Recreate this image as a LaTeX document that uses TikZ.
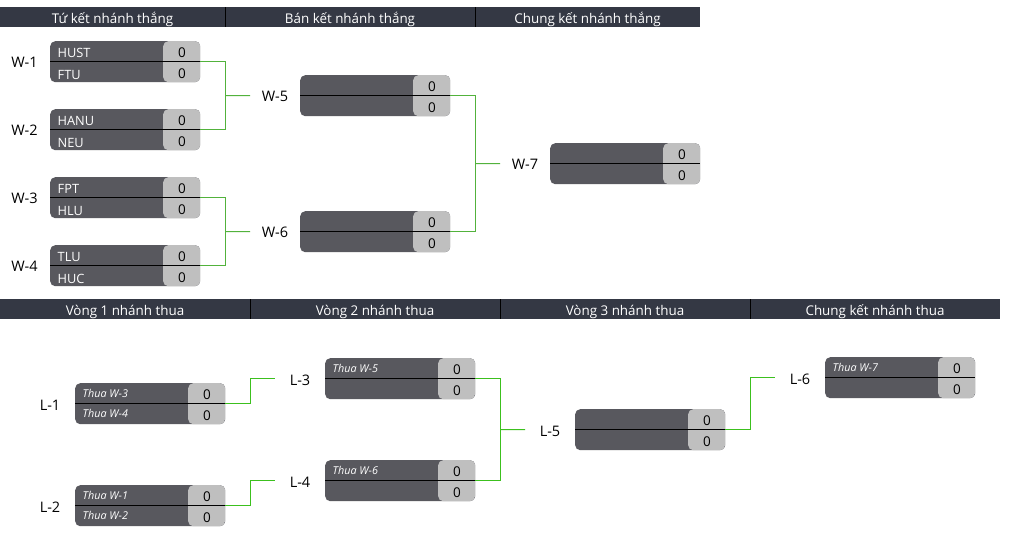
\documentclass[tikz,border=0pt]{standalone}
\usepackage{fontspec}
\setmainfont{Open Sans}
\usetikzlibrary{calc}
\definecolor{hdrcol}{HTML}{343844}
\definecolor{boxcol}{HTML}{58585E}
\definecolor{scorecol}{HTML}{BFBFBF}
\definecolor{wline}{HTML}{52B23C}
\definecolor{lline}{HTML}{3CC01E}
\tikzset{
  mbox/.style={anchor=north west, minimum width=150pt, minimum height=41pt, inner sep=0pt,
    rounded corners=5pt, fill=boxcol,
    path picture={
      \fill[scorecol] ([xshift=-37pt]path picture bounding box.north east) rectangle (path picture bounding box.south east);
      \draw[black, line width=1pt] (path picture bounding box.west) -- (path picture bounding box.east);
    }},
  team/.style={anchor=base west, text=white, inner sep=0pt, font=\fontsize{12.8}{14}\selectfont},
  lteam/.style={anchor=base west, text=white, inner sep=0pt, font=\fontsize{10.8}{12}\selectfont\itshape},
  score/.style={anchor=base, text=black, inner sep=0pt, font=\fontsize{13.5}{15}\selectfont},
  mlabel/.style={anchor=base, text=black, inner sep=0pt, font=\fontsize{14.5}{16}\selectfont},
  hdr/.style={anchor=base, text=white, inner sep=0pt, font=\fontsize{13.4}{15}\selectfont},
  wconn/.style={draw=wline, line width=1pt},
  lconn/.style={draw=lline, line width=1pt},
}
% #1 name, #2 x, #3 y, #4 team1, #5 team2, #6 team style, #7 baseline offset top, #8 baseline offset bottom
\newcommand\mymatch[8]{%
  \node[mbox] (#1) at (#2,#3) {};
  \node[#6] (#1a) at ([xshift=7.5pt,yshift=-#7pt]#1.north west) {#4};
  \node[#6] (#1b) at ([xshift=7.5pt,yshift=-#8pt]#1.west) {#5};
  \node[score] (#1sa) at ([xshift=-18.5pt,yshift=-16.3pt]#1.north east) {0};
  \node[score] (#1sb) at ([xshift=-18.5pt,yshift=-17pt]#1.east) {0};
}
\begin{document}
\begin{tikzpicture}[x=1pt,y=-1pt]
\useasboundingbox[fill=white] (0,0) rectangle (1021,541);
% headers top
\fill[hdrcol] (0,7) rectangle (700,27);
\draw[black, line width=1pt] (225,7) -- (225,27) (475,7) -- (475,27);
\node[hdr] (h1) at (112.5,23.5) {Tứ kết nhánh thắng};
\node[hdr] (h2) at (350,23.5) {Bán kết nhánh thắng};
\node[hdr] (h3) at (587.5,23.5) {Chung kết nhánh thắng};
% headers bottom
\fill[hdrcol] (0,299) rectangle (1000,319);
\draw[black, line width=1pt] (250,299) -- (250,319) (500,299) -- (500,319) (750,299) -- (750,319);
\node[hdr] (h4) at (125,315.5) {Vòng 1 nhánh thua};
\node[hdr] (h5) at (375,315.5) {Vòng 2 nhánh thua};
\node[hdr] (h6) at (625,315.5) {Vòng 3 nhánh thua};
\node[hdr] (h7) at (875,315.5) {Chung kết nhánh thua};

% winners bracket
\mymatch{W1}{50}{41}{HUST}{FTU}{team}{16.4}{17.5}
\mymatch{W2}{50}{109}{HANU}{NEU}{team}{16.4}{17.5}
\mymatch{W3}{50}{177}{FPT}{HLU}{team}{16.4}{17.5}
\mymatch{W4}{50}{245}{TLU}{HUC}{team}{16.4}{17.5}
\mymatch{W5}{300}{75}{}{}{team}{16.4}{17.5}
\mymatch{W6}{300}{211}{}{}{team}{16.4}{17.5}
\mymatch{W7}{550}{143}{}{}{team}{16.4}{17.5}

\node[mlabel] (lW1) at (24.5,67.5) {W-1};
\node[mlabel] (lW2) at (24.5,135.5) {W-2};
\node[mlabel] (lW3) at (24.5,203.5) {W-3};
\node[mlabel] (lW4) at (24.5,271.5) {W-4};
\node[mlabel] (lW5) at (275,101.5) {W-5};
\node[mlabel] (lW6) at (275,237.5) {W-6};
\node[mlabel] (lW7) at (525,169.5) {W-7};

\coordinate (eW5) at (250,95.5);
\coordinate (eW6) at (250,231.5);
\coordinate (eW7) at (500,163.5);
\draw[wconn] (W1.east) -- ++(25,0) |- (W2.east);
\draw[wconn] ($(W1.east)!0.5!(W2.east)+(25,0)$) -- (eW5);
\draw[wconn] (W3.east) -- ++(25,0) |- (W4.east);
\draw[wconn] ($(W3.east)!0.5!(W4.east)+(25,0)$) -- (eW6);
\draw[wconn] (W5.east) -- ++(25,0) |- (W6.east);
\draw[wconn] ($(W5.east)!0.5!(W6.east)+(25,0)$) -- (eW7);

% losers bracket
\mymatch{L1}{75}{383}{Thua W-3}{Thua W-4}{lteam}{14}{14}
\mymatch{L2}{75}{485}{Thua W-1}{Thua W-2}{lteam}{14}{14}
\mymatch{L3}{325}{358}{Thua W-5}{}{lteam}{14}{14}
\mymatch{L4}{325}{460}{Thua W-6}{}{lteam}{14}{14}
\mymatch{L5}{575}{409}{}{}{lteam}{14}{14}
\mymatch{L6}{825}{357}{Thua W-7}{}{lteam}{14}{14}

\node[mlabel] (lL1) at (50,410) {L-1};
\node[mlabel] (lL2) at (50,512) {L-2};
\node[mlabel] (lL3) at (300,385) {L-3};
\node[mlabel] (lL4) at (300,487) {L-4};
\node[mlabel] (lL5) at (550,436) {L-5};
\node[mlabel] (lL6) at (800,384) {L-6};

\coordinate (eL3) at (275,378.5);
\coordinate (eL4) at (275,480.5);
\coordinate (eL5) at (525,429.5);
\coordinate (eL6) at (775,377.5);
\draw[lconn] (L1.east) -- ++(25,0) |- (eL3);
\draw[lconn] (L2.east) -- ++(25,0) |- (eL4);
\draw[lconn] (L3.east) -- ++(25,0) |- (L4.east);
\draw[lconn] ($(L3.east)!0.5!(L4.east)+(25,0)$) -- (eL5);
\draw[lconn] (L5.east) -- ++(25,0) |- (eL6);
\end{tikzpicture}
\end{document}
